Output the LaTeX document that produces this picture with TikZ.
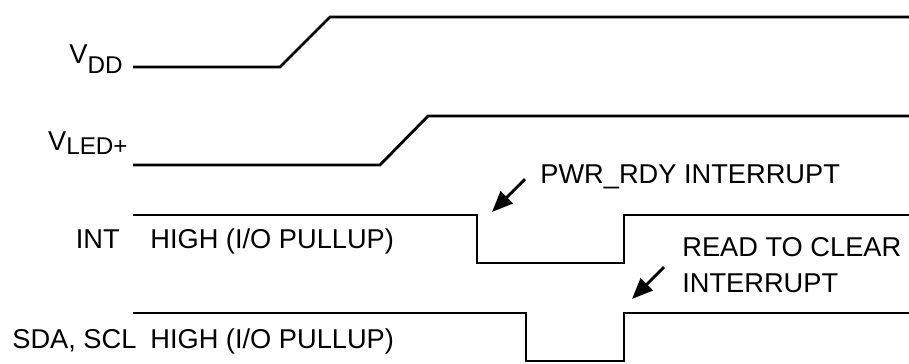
\documentclass[tikz,border=0pt]{standalone}
\usepackage{fontspec}
\setmainfont{Liberation Sans}
\usetikzlibrary{arrows.meta}
\newcommand{\lowsub}[2]{\raisebox{#1}{\fontsize{13.8}{16}\selectfont #2}}

\begin{document}
\begin{tikzpicture}[x=0.02cm,y=-0.02cm,
  sig/.style={line width=1.6pt,line join=miter},
  ptr/.style={line width=1.6pt,-{Triangle[length=0.42cm,width=0.34cm]}},
  lbl/.style={inner sep=0pt,font=\fontsize{15.5}{18}\selectfont}]
\useasboundingbox (0,0) rectangle (909,363);
% waveforms
\draw[sig] (133,67) -- (280,67) -- (330,17) -- (909,17);
\draw[sig] (133,165) -- (380,165) -- (428,116) -- (909,116);
\draw[sig] (133,215) -- (477,215) -- (477,263) -- (624,263) -- (624,215) -- (909,215);
\draw[sig] (133,313) -- (526,313) -- (526,361) -- (624,361) -- (624,313) -- (909,313);
% signal names
\node[lbl,anchor=base east] (vdd) at (123,63) {V\lowsub{-0.2cm}{DD}};
\node[lbl,anchor=base east] (vled) at (128,150) {V\lowsub{-0.08cm}{LED+}};
\node[lbl,anchor=base east] (int) at (120,248) {INT};
\node[lbl,anchor=base west] (inthigh) at (150,248) {HIGH (I/O PULLUP)};
\node[lbl,anchor=base west] (sda) at (12,348) {SDA, SCL};
\node[lbl,anchor=base west] (sdahigh) at (150,348) {HIGH (I/O PULLUP)};
% notes
\node[lbl,anchor=base west] (pwrtxt) at (540,183) {PWR\_RDY INTERRUPT};
\node[lbl,anchor=base west] (readtxt) at (682,256) {READ TO CLEAR};
\node[lbl,anchor=base west] (readtxt2) at (682,292) {INTERRUPT};
\coordinate (pwrtail) at (525,179);
\coordinate (pwrtip) at (492,212);
\coordinate (readtail) at (664,267);
\coordinate (readtip) at (632,299);
\draw[ptr] (pwrtail) -- (pwrtip);
\draw[ptr] (readtail) -- (readtip);
\end{tikzpicture}
\end{document}
